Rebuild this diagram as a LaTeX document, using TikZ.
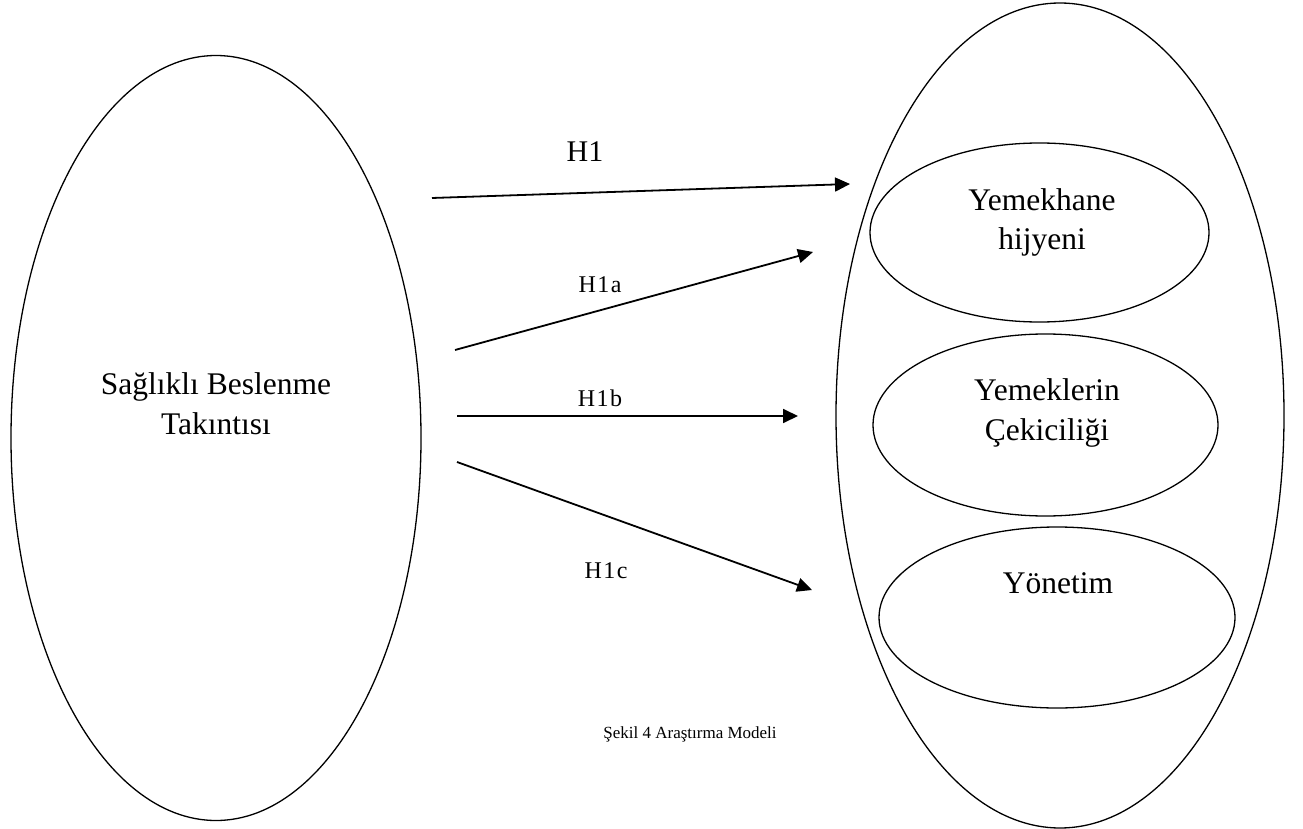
\documentclass[tikz,border=0pt]{standalone}
\usepackage{fontspec}
\setmainfont{Liberation Serif}
\usetikzlibrary{shapes.geometric,arrows.meta}
\begin{document}
\begin{tikzpicture}[x=1pt,y=-1pt,
  oval/.style={draw,ellipse,line width=1.3pt,inner sep=0pt,minimum width=#1},
  bigtext/.style={align=center,inner sep=0pt,font=\fontsize{31.5}{39.5}\selectfont},
  hlab/.style={inner sep=0pt,anchor=base,font=\fontsize{24}{28}\selectfont\addfontfeatures{LetterSpace=6}},
  arr/.style={line width=1.8pt,-{Triangle[length=15pt,width=14pt]}}]
\useasboundingbox (0,0) rectangle (1303,829);
% ellipses
\node[oval=410pt,minimum height=765pt] (left) at (216,438) {};
\node[oval=448pt,minimum height=825pt] (outer) at (1060,415.5) {};
\node[oval=339pt,minimum height=179pt] (e1) at (1039.5,232.5) {};
\node[oval=345pt,minimum height=182pt] (e2) at (1045.5,425) {};
\node[oval=356pt,minimum height=181pt] (e3) at (1057,617.5) {};
% texts
\node[bigtext] (tleft) at (216,403.5) {Sağlıklı Beslenme\\Takıntısı};
\node[bigtext] (t1) at (1042,222.5) {Yemekhane\\hijyeni};
\node[bigtext] (t2) at (1047,413) {Yemeklerin\\Çekiciliği};
\node[bigtext] (t3) at (1058,583) {Yönetim};
% arrow end points
\coordinate (s1) at (432,198);  \coordinate (f1) at (850,184);
\coordinate (s2) at (455,350);  \coordinate (f2) at (813,252);
\coordinate (s3) at (457,416);  \coordinate (f3) at (798,416);
\coordinate (s4) at (457,462);  \coordinate (f4) at (812,590);
\draw[arr] (s1) -- (f1);
\draw[arr] (s2) -- (f2);
\draw[arr] (s3) -- (f3);
\draw[arr] (s4) -- (f4);
% labels
\node[inner sep=0pt,anchor=base,font=\fontsize{30}{36}\selectfont] (l1) at (585,162) {H1};
\node[hlab] (l2) at (600,292) {H1a};
\node[hlab] (l3) at (600,406) {H1b};
\node[hlab] (l4) at (606,578) {H1c};
% caption
\node[inner sep=0pt,anchor=base,font=\fontsize{17}{20}\selectfont] (cap) at (690,738) {Şekil 4 Araştırma Modeli};
\end{tikzpicture}
\end{document}
